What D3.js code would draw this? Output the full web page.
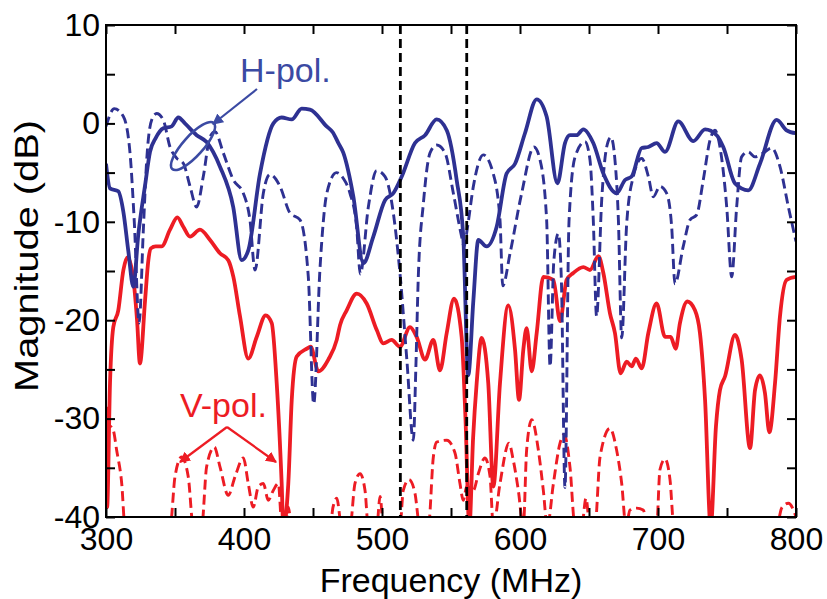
<!DOCTYPE html>
<html><head><meta charset="utf-8">
<script src="https://cdn.jsdelivr.net/npm/d3@7"></script>
<style>
html,body{margin:0;padding:0;background:#fff;}
text{font-family:"Liberation Sans",Arial,Helvetica,sans-serif;}
</style></head>
<body>
<svg id="chart" width="827" height="599"></svg>
<script>
// ---------- data ----------
const xTicks = [300,350,400,450,500,550,600,650,700,750,800];
const yTicks = [-40,-35,-30,-25,-20,-15,-10,-5,0,5,10];
const markerFreqs = [513.3, 561.4];

const hSolidF = [300,302.9,308.9,312.6,316.2,319.8,323.4,328.3,331.9,336,341.5,347.6,352.4,357.2,365.7,372.9,382.6,392.2,398.3,403.1,411.6,421.3,427.3,434.6,441.8,447.8,459.9,464.3,468.4,472,479.2,486.5,493.7,502.2,508.2,514.3,523.9,531.2,539.6,546.9,554.1,558.9,562.5,566.2,569.8,575.8,583.1,590.3,596.4,603.6,612.1,619.3,627.1,632.6,636.2,641,645.9,653.1,660.4,670,676.1,680.9,688.2,693,699,705.1,714.7,725.6,734.1,742.5,747.3,755.8,765.4,773.9,786,793.2,800];
const hSolidDb = [-4.1,-6.6,-6.9,-9.0,-13.0,-16.6,-11.3,-6.3,-2.9,-1.5,-0.5,-0.3,0.6,0,-1.2,-1.9,-4.4,-8.5,-13.9,-12.9,-5.1,0,0.6,0.4,1.5,1.4,-0.3,-0.9,-2.0,-3.0,-7.4,-14.2,-11.5,-7.8,-7.1,-5.4,-2.0,-1.2,0.4,-0.7,-5.75,-11.5,-25.6,-18,-11.85,-12.5,-10.5,-5.1,-4.1,-1.0,2.45,0.7,-6.1,-2.0,-1.2,-1.2,-0.6,-2.0,-5.1,-7.1,-5.75,-5.4,-2.5,-2.4,-2.0,-2.9,0.2,-1.8,-0.6,-1.2,-2.4,-6.1,-6.8,-4.1,0.35,-0.7,-1.0];

const hDashF = [300,306,312.6,317.4,320.5,324,327,329.5,333.1,336.7,341.5,346.4,351,356,360.9,365.7,370.5,375.4,379,385,392.3,399.5,404.3,408,414,418.8,426.1,433.3,440.6,446.6,450.5,455,460,467,472,476.8,481.6,484.3,490.1,496.1,502.2,508.2,513,518,522.7,524.5,526.3,530,534.8,539.6,545.7,551.7,557.7,559.5,562,566.2,573.4,580.6,585.5,587.5,592.8,601.2,610.1,614.5,619.3,621.8,624.5,627.8,630,632.6,635.5,639.9,647.1,650.7,653.1,655.5,659.2,662.8,665.9,668.8,671.3,673.7,677.3,682.1,688.2,693,696.6,701.4,706.3,709.9,712.3,718.3,723.2,728,732.8,737.7,741.3,744.9,749.8,753.4,757,760.6,765.4,770.3,776.3,782.4,788.4,794.5,800];
const hDashDb = [-0.3,1.5,0.7,-3.0,-10,-20.3,-11,-3.7,0.35,1.0,0.35,-2.4,-3.5,-4.05,-6.4,-8.5,-5.4,-1.35,-0.85,-3.0,-5.75,-7.1,-9.8,-14.9,-7.1,-5.2,-6.4,-9.1,-9.8,-15.6,-28.5,-14.9,-7.1,-5.0,-5.6,-7.1,-10.5,-15.3,-8.5,-4.8,-5.4,-9.1,-15.2,-24,-32.2,-25,-15.6,-8.1,-3.0,-2.2,-3.0,-7.1,-11.5,-12.5,-10.5,-6.4,-3.2,-5.1,-9.8,-16.5,-13.2,-7.1,-2.4,-3.7,-9.8,-24.7,-14,-11.2,-16,-37,-10,-3.4,-1.85,-3.7,-9.8,-19.6,-7.8,-2.4,-1.4,-3.7,-9.8,-21.8,-10.2,-5.4,-3.55,-5.4,-7.45,-6.4,-7.1,-10.5,-16.3,-12.5,-9.8,-9.3,-5.75,-1.7,-0.7,-2.4,-8.5,-15.6,-8.5,-3.4,-2.9,-3.4,-3.0,-2.5,-4.4,-8.5,-12];

const vSolidF = [300,300.8,302.9,305.3,308.9,312.6,315.6,319.8,322.5,324.6,328.3,330.7,332.5,336,340.3,346.4,351.7,356,360.9,368.1,375.4,382.6,388.6,392.3,397.1,403.1,409.2,415.7,420.1,423.7,427.3,428.5,432.1,434.6,438.2,445.4,448.3,453.9,461.1,467.2,469.6,474.4,481.7,488.9,496.2,501,507,513,520.3,525.1,531.2,537.2,542,546.9,552.2,557.7,560.5,563.3,566,568.6,572.2,577,580.7,585.5,591.5,596.4,599.3,602.4,604.8,608.5,612.1,616.9,624.2,629,633.8,638.6,645.9,650.7,656.8,660.4,665.2,668.8,672.9,677.3,680.9,684,688.2,693,699,705.1,709.2,712.8,715.9,721.3,726.8,730.4,734.1,738.2,742,744.9,748.6,755.8,760.6,766.7,770.3,773.9,777.5,780.7,784.8,788.4,793.2,800];
const vSolidDb = [-28.8,-39,-26.4,-20.7,-19.0,-14.9,-13.6,-15.8,-20,-24.4,-18,-13.9,-12.7,-12.5,-12.5,-10.8,-9.55,-10.5,-11.5,-10.8,-11.85,-13.2,-13.9,-15.6,-19.6,-23.9,-21.7,-19.5,-20.3,-26.4,-36.6,-41,-36.6,-28.1,-23.7,-22.9,-22.7,-25.2,-24,-22,-20.5,-19,-17.3,-18.3,-21,-22.35,-22,-22.7,-20.7,-21.7,-24,-22,-25.1,-21.3,-17.8,-21.7,-30,-41,-32,-26.4,-21.8,-26.4,-36.9,-26.4,-18.5,-23,-28.1,-23,-20.8,-25.2,-21.3,-15.6,-15.9,-20.1,-15.9,-15.2,-14.6,-14.9,-13.5,-15.2,-19.3,-21.3,-25.4,-24.2,-24.7,-23.9,-24.9,-21.3,-18.3,-21.7,-21.7,-22.9,-20.3,-18.1,-19,-21.3,-28.1,-41,-30.8,-27.1,-25.7,-21.5,-24,-33,-27.1,-25.6,-27.4,-31.4,-26.4,-19.6,-15.9,-15.6];

const vDashF = [300,303,305.3,307.7,311.4,313.8,346.4,350,354.8,359.6,363.3,369.3,372.9,378.5,382.6,388.6,393.5,399.5,403.1,406.7,410.4,414,417.6,421.2,424.9,427.5,430,432.1,434.5,462.3,464.5,467.2,470.8,476.8,480.4,484.1,487.7,490.1,496.2,498.6,501,513,515.4,519.6,523.9,527.5,533.6,537.2,539.6,546.9,552.9,556.5,558.9,561.4,566.2,570,574.6,578.3,580.7,585.5,592,595.1,598.8,602.4,604.8,608.5,613.3,616.9,619.8,624.2,629,632,636.2,639.9,644.7,647.8,650.7,654.3,658,665.2,670,673.7,676.8,679.7,684.5,689.3,693,699,701.4,705.1,708.7,711.6,786,789.6,794.5,798.2,800];
const vDashDb = [-31.5,-30.8,-31.2,-33.2,-36.6,-41,-41,-35.9,-33.9,-35.9,-41,-41,-34.9,-32.9,-34.9,-37.8,-35.9,-34,-36.6,-39,-36.9,-36.6,-38.3,-37.3,-36.6,-41,-41,-39,-41,-41,-39,-38.1,-41,-41,-36.6,-35.6,-37.3,-41,-41,-37.9,-41,-41,-37.3,-36.2,-37.6,-41,-41,-33.9,-32.4,-32.2,-33.5,-36.6,-38.3,-36.9,-37.3,-35.5,-34,-35.9,-41,-36.6,-32.5,-34.2,-37.3,-41,-33.2,-30.1,-33.2,-37.3,-41,-36.6,-32.5,-31.6,-34.9,-41,-41,-38.1,-41,-41,-33.9,-31,-33.2,-36.6,-41,-39.3,-39.1,-39.3,-41,-41,-35.2,-34.1,-36.2,-41,-41,-39.1,-38.6,-39.3,-40];

// ---------- layout ----------
const svg = d3.select("#chart");
const L = 106, R = 796, T = 25, B = 517;
const x = d3.scaleLinear().domain([300, 800]).range([L, R]);
const y = d3.scaleLinear().domain([-40, 10]).range([B, T]);

const NAVY = "#2e3192", RED = "#ed1c24", HBLUE = "#3b4aa3";

svg.append("defs").append("clipPath").attr("id","clip")
  .append("rect").attr("x",L).attr("y",T).attr("width",R-L).attr("height",B-T);

const line = d3.line().x(d=>x(d[0])).y(d=>y(d[1])).curve(d3.curveMonotoneX);
const zipS = (f, v) => f.map((d,i)=>[d, v[i]]);

const plot = svg.append("g").attr("clip-path","url(#clip)");
plot.append("path").attr("d", line(zipS(vDashF, vDashDb)))
  .attr("fill","none").attr("stroke",RED).attr("stroke-width",2.9).attr("stroke-dasharray","10,5");
plot.append("path").attr("d", line(zipS(vSolidF, vSolidDb)))
  .attr("fill","none").attr("stroke",RED).attr("stroke-width",3.8).attr("stroke-linejoin","round");
plot.append("path").attr("d", line(zipS(hDashF, hDashDb)))
  .attr("fill","none").attr("stroke",NAVY).attr("stroke-width",2.9).attr("stroke-dasharray","10,5");
plot.append("path").attr("d", line(zipS(hSolidF, hSolidDb)))
  .attr("fill","none").attr("stroke",NAVY).attr("stroke-width",3.8).attr("stroke-linejoin","round");

plot.selectAll("line.marker").data(markerFreqs).join("line")
  .attr("class","marker")
  .attr("x1",d=>x(d)).attr("x2",d=>x(d)).attr("y1",T).attr("y2",B)
  .attr("stroke","#000").attr("stroke-width",2.8).attr("stroke-dasharray","9,5");

// ---------- axes ----------
const fmt = d => String(d);
const gx = svg.append("g").attr("transform",`translate(0,${B})`)
  .call(d3.axisBottom(x).tickValues(xTicks).tickSize(-9).tickSizeOuter(0).tickPadding(10)
    .tickFormat(d => d % 100 === 0 ? fmt(d) : ""));
const gxt = svg.append("g").attr("transform",`translate(0,${T})`)
  .call(d3.axisTop(x).tickValues(xTicks).tickSize(-9).tickSizeOuter(0).tickFormat(""));
const gy = svg.append("g").attr("transform",`translate(${L},0)`)
  .call(d3.axisLeft(y).tickValues(yTicks).tickSize(-9).tickSizeOuter(0).tickPadding(6)
    .tickFormat(d => d % 10 === 0 ? fmt(d) : ""));
const gyr = svg.append("g").attr("transform",`translate(${R},0)`)
  .call(d3.axisRight(y).tickValues(yTicks).tickSize(-9).tickSizeOuter(0).tickFormat(""));

[gx,gxt,gy,gyr].forEach(g=>{
  g.select(".domain").remove();
  g.selectAll(".tick line").attr("stroke","#000").attr("stroke-width",2);
  g.selectAll(".tick text").attr("fill","#000").style("font-size","32px")
    .style("font-family",'"Liberation Sans",Arial,sans-serif');
});
gx.selectAll(".tick text").attr("dy","0.72em");

svg.append("rect").attr("x",L).attr("y",T).attr("width",R-L).attr("height",B-T)
  .attr("fill","none").attr("stroke","#000").attr("stroke-width",2);

// axis titles
svg.append("text").attr("x",(L+R)/2).attr("y",592).attr("text-anchor","middle")
  .style("font-size","34px").attr("fill","#000").text("Frequency (MHz)");
svg.append("text").attr("transform",`translate(38,256) rotate(-90)`).attr("text-anchor","middle")
  .attr("textLength",272).attr("lengthAdjust","spacingAndGlyphs")
  .style("font-size","34px").attr("fill","#000").text("Magnitude (dB)");

// ---------- annotations ----------
const defs = svg.select("defs");
function marker(id, color){
  defs.append("marker").attr("id",id).attr("viewBox","0 0 10 10").attr("refX",9).attr("refY",5)
    .attr("markerWidth",5).attr("markerHeight",5).attr("orient","auto-start-reverse")
    .attr("markerUnits","strokeWidth")
    .append("path").attr("d","M0,0 L10,5 L0,10 Z").attr("fill",color);
}
marker("arrH", HBLUE); marker("arrV", RED);

svg.append("text").attr("x",240).attr("y",82).style("font-size","34px").attr("fill",HBLUE).text("H-pol.");
svg.append("ellipse").attr("cx",0).attr("cy",0).attr("rx",31).attr("ry",10)
  .attr("transform","translate(193,146) rotate(-48)")
  .attr("fill","none").attr("stroke",HBLUE).attr("stroke-width",2.6);
svg.append("line").attr("x1",257).attr("y1",89).attr("x2",213).attr("y2",124)
  .attr("stroke",HBLUE).attr("stroke-width",2.2).attr("marker-end","url(#arrH)");

svg.append("text").attr("x",180).attr("y",417).style("font-size","34px").attr("fill",RED).text("V-pol.");
svg.append("line").attr("x1",227).attr("y1",427).attr("x2",180).attr("y2",462)
  .attr("stroke",RED).attr("stroke-width",2.2).attr("marker-end","url(#arrV)");
svg.append("line").attr("x1",227).attr("y1",427).attr("x2",276).attr("y2",462)
  .attr("stroke",RED).attr("stroke-width",2.2).attr("marker-end","url(#arrV)");
</script>
</body></html>
